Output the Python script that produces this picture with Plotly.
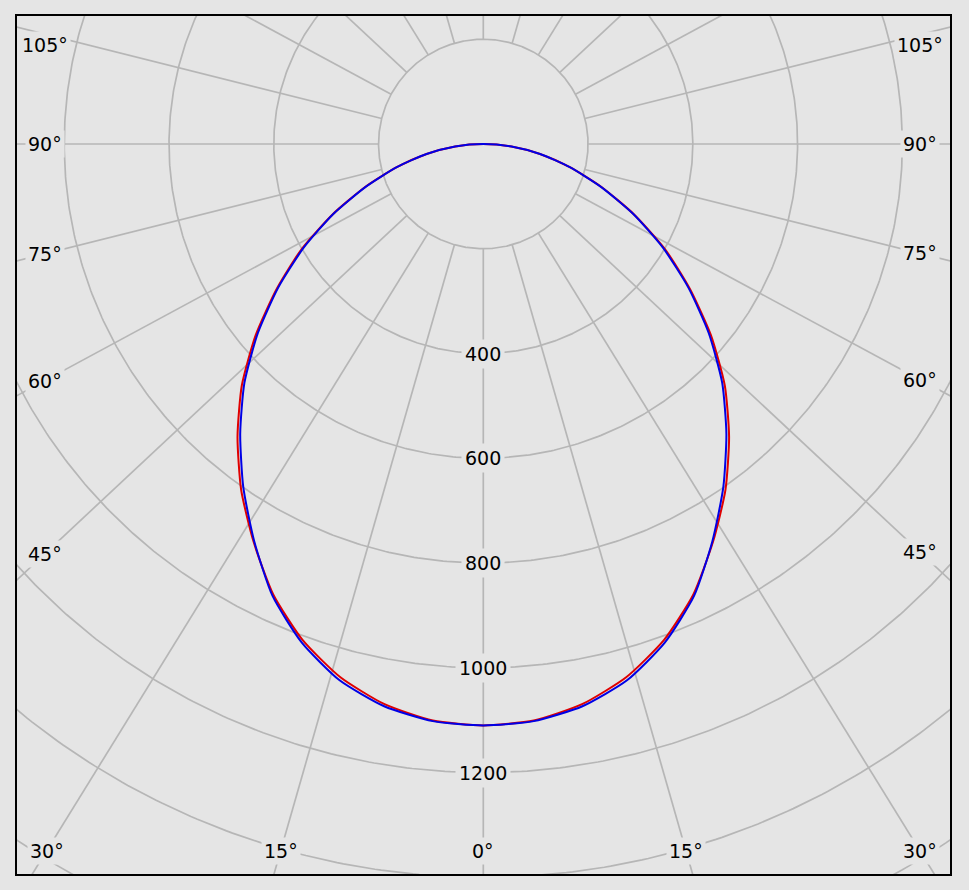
import numpy as np
import plotly.graph_objects as go

# ---------------- data ----------------
angles_deg = [0, 5, 10, 15, 20, 25, 30, 35, 40, 45, 50, 55, 60, 65, 70, 75, 80, 85, 90]
intensity_red = [1110, 1105, 1086, 1054, 1008, 949, 877, 806, 730, 652, 567, 481, 400, 317, 240, 171, 110, 54, 0]
intensity_blue = [1110, 1106, 1090, 1060, 1013, 952, 875, 799, 722, 645, 562, 478, 396, 316, 239, 171, 110, 54, 0]
radial_grid = [200, 400, 600, 800, 1000, 1200, 1400, 1600, 1800]
radial_labels = [400, 600, 800, 1000, 1200]
angle_grid = list(range(0, 181, 15))
angle_labels = [0, 15, 30, 45, 60, 75, 90, 105]

# ---------------- geometry / style ----------------
W, H = 969, 890
frame_l, frame_r, frame_t, frame_b = 17, 950, 16, 874
cx_px, cy_px = 483.3, 144.0
px_per_cd = 104.76 / 200.0
ray_stretch = 1.07
bg = "#e5e5e5"
grid_col = "#b6b6b6"
font = dict(family="Verdana, DejaVu Sans, sans-serif", size=19, color="#000000")

x_range = [-(cx_px - frame_l) / px_per_cd, (frame_r - cx_px) / px_per_cd]
y_range = [-(frame_b - cy_px) / px_per_cd, (cy_px - frame_t) / px_per_cd]

fig = go.Figure()

# circles
cx_list, cy_list = [], []
t = np.linspace(0, 2 * np.pi, 721)
for R in radial_grid:
    cx_list += list(R * np.sin(t)) + [None]
    cy_list += list(R * np.cos(t)) + [None]
fig.add_trace(go.Scatter(x=cx_list, y=cy_list, mode="lines",
                         line=dict(color=grid_col, width=1.7),
                         hoverinfo="skip", showlegend=False))

# rays (start at the innermost circle)
rx, ry = [], []
r0, r1 = radial_grid[0], 3000
for a in angle_grid:
    sides = [1] if a in (0, 180) else [-1, 1]
    for s in sides:
        ar = np.radians(a)
        dx, dy = s * ray_stretch * np.sin(ar), -np.cos(ar)
        n = np.hypot(dx, dy)
        dx, dy = dx / n, dy / n
        rx += [r0 * dx, r1 * dx, None]
        ry += [r0 * dy, r1 * dy, None]
fig.add_trace(go.Scatter(x=rx, y=ry, mode="lines",
                         line=dict(color=grid_col, width=1.7),
                         hoverinfo="skip", showlegend=False))


def curve(ang, vals):
    a = np.radians(np.array(ang, dtype=float))
    v = np.array(vals, dtype=float)
    g = np.concatenate([-a[::-1], a[1:]])
    r = np.concatenate([v[::-1], v[1:]])
    return r * np.sin(g), -r * np.cos(g)


xr, yr = curve(angles_deg, intensity_red)
fig.add_trace(go.Scatter(x=xr, y=yr, mode="lines",
                         line=dict(color="#e00000", width=2, shape="spline", smoothing=0.6),
                         showlegend=False, name="C0-C180"))
xb, yb = curve(angles_deg, intensity_blue)
fig.add_trace(go.Scatter(x=xb, y=yb, mode="lines",
                         line=dict(color="#0000e6", width=2, shape="spline", smoothing=0.6),
                         showlegend=False, name="C90-C270"))

annotations = []
# radial value labels along the 0° line
for R in radial_labels:
    annotations.append(dict(x=0, y=-R, xref="x", yref="y", text=str(R), showarrow=False,
                            font=font, bgcolor=bg, borderpad=3))

# angle labels near the frame
in_l, in_r, in_b, in_t = frame_l + 28, frame_r - 30, frame_b - 23, frame_t + 29
for a in angle_labels:
    sides = [1] if a == 0 else [-1, 1]
    for s in sides:
        ar = np.radians(a)
        dx, dy = s * ray_stretch * np.sin(ar), np.cos(ar)
        ts = []
        if dx < 0:
            ts.append((in_l - cx_px) / dx)
        if dx > 0:
            ts.append((in_r - cx_px) / dx)
        if dy > 0:
            ts.append((in_b - cy_px) / dy)
        tt = min(ts)
        px = cx_px + tt * dx
        py = max(cy_px + tt * dy, in_t)
        annotations.append(dict(x=(px - cx_px) / px_per_cd, y=-(py - cy_px) / px_per_cd,
                                xref="x", yref="y", text=f"{a}°", showarrow=False,
                                font=font, bgcolor=bg, borderpad=2))

fig.update_layout(
    width=W, height=H,
    margin=dict(l=frame_l, r=W - frame_r, t=frame_t, b=H - frame_b),
    paper_bgcolor=bg, plot_bgcolor=bg,
    xaxis=dict(range=x_range, showgrid=False, zeroline=False, showticklabels=False,
               ticks="", showline=True, mirror=True, linecolor="#000000", linewidth=1.5,
               fixedrange=True),
    yaxis=dict(range=y_range, showgrid=False, zeroline=False, showticklabels=False,
               ticks="", showline=True, mirror=True, linecolor="#000000", linewidth=1.5,
               fixedrange=True),
    annotations=annotations,
    showlegend=False,
)

fig.write_html(
    "out.html",
    config={"displayModeBar": False},
    post_script="document.body.style.margin='0';document.body.style.background='%s';" % bg,
)
